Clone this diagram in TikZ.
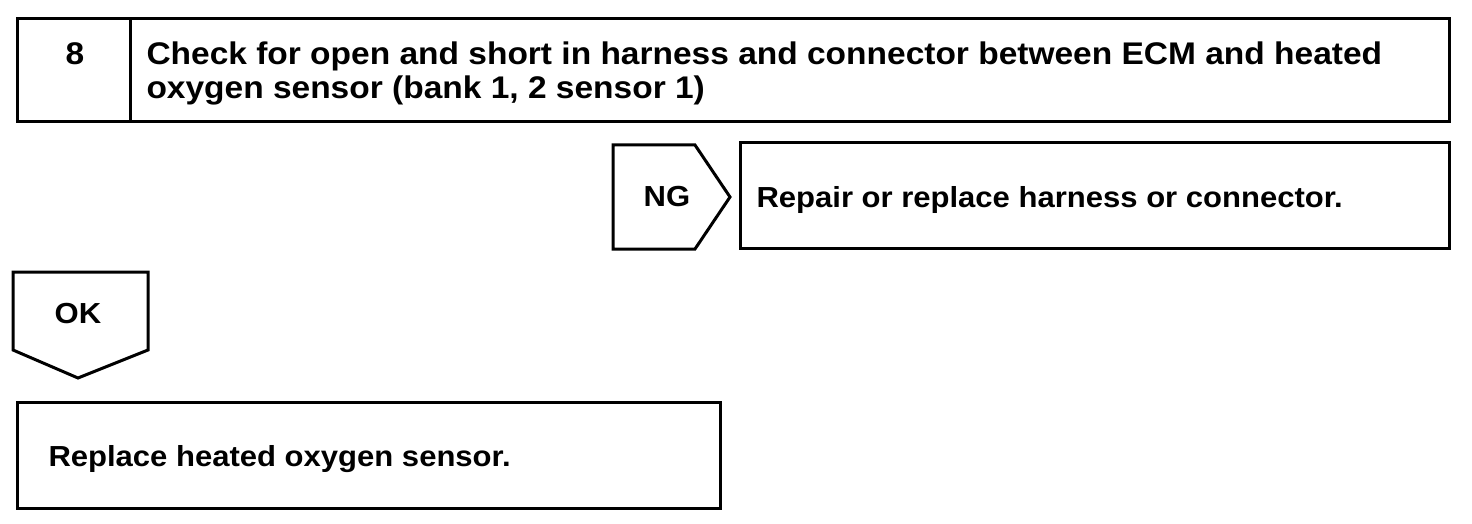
\documentclass[tikz,border=0pt]{standalone}
\usepackage{fontspec}
\setmainfont{Liberation Sans}
\newfontfamily\flowfont[FakeStretch=1.07]{Liberation Sans}
\usetikzlibrary{positioning}

\begin{document}
\begin{tikzpicture}[x=1pt, y=-1pt, line width=3pt, line join=miter]
    \tikzstyle{label} = [font=\flowfont\bfseries\fontsize{29}{34}\selectfont, inner sep=0pt, align=left]
    \tikzstyle{title} = [font=\flowfont\bfseries\fontsize{31.3}{34}\selectfont, inner sep=0pt, align=left]
    \useasboundingbox (0,0) rectangle (1472,524);
    % step 8
    \draw (17,19) rectangle (1449,122);
    \draw (130,19) -- (130,122);
    \node [title, anchor=base] at (75,65) (stepnum) {8};
    \node [title, anchor=north west] at (145,40) (check) {Check for open and short in harness and connector between ECM and heated\\oxygen sensor (bank 1, 2 sensor 1)};
    % NG branch
    \draw (613,145) -- (695,145) -- (730,197) -- (695,249) -- (613,249) -- cycle;
    \node [label, anchor=base] at (667,206) (ng) {NG};
    \draw (740,143) rectangle (1449,248);
    \node [label, anchor=base west] at (755,207) (repair) {Repair or replace harness or connector.};
    % OK branch
    \draw (13,272) -- (148,272) -- (148,350) -- (78,378) -- (13,350) -- cycle;
    \node [label, anchor=base] at (78,323) (ok) {OK};
    \draw (17,402) rectangle (720,508);
    \node [label, anchor=base west] at (47,466) (replace) {Replace heated oxygen sensor.};
\end{tikzpicture}
\end{document}
